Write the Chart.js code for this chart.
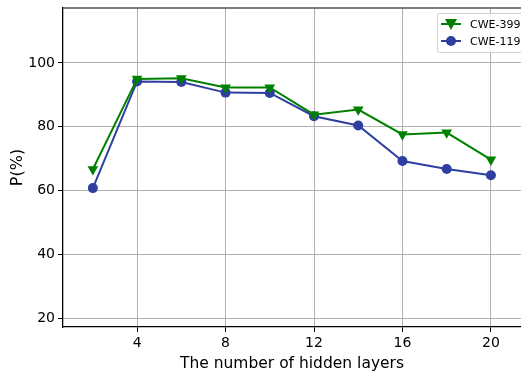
<!DOCTYPE html>
<html lang="en">
<head>
    <meta charset="UTF-8">
    <title>P(%) vs hidden layers</title>
    <script src="https://cdn.jsdelivr.net/npm/chart.js"></script>
    <style>
        html, body { margin: 0; padding: 0; background: #fff; }
        #wrap { width: 521px; height: 373px; }
    </style>
</head>
<body>
    <div id="wrap"><canvas id="pChart" width="521" height="373"></canvas></div>

    <script>
        // values
        const hiddenLayers = [2, 4, 6, 8, 10, 12, 14, 16, 18, 20];
        const cwe399 = [66.7, 95.0, 95.2, 92.3, 92.3, 83.8, 85.4, 77.6, 78.2, 69.7];
        const cwe119 = [60.8, 94.2, 94.0, 90.7, 90.6, 83.3, 80.4, 69.3, 66.8, 64.8];
        const xTicks = [4, 8, 12, 16, 20];
        const yTicks = [20, 40, 60, 80, 100];

        const FONT = "'DejaVu Sans', sans-serif";

        // matplotlib-like frame: top spine + legend with line through marker
        const framePlugin = {
            id: 'frame',
            afterDraw(chart) {
                const ctx = chart.ctx;
                const a = chart.chartArea;
                ctx.save();
                ctx.strokeStyle = '#555';
                ctx.lineWidth = 1.5;
                ctx.beginPath();
                ctx.moveTo(a.left, a.top);
                ctx.lineTo(a.right, a.top);
                ctx.stroke();

                // legend box
                const bx = 437, by = 13, bw = 90, bh = 39;
                ctx.fillStyle = 'rgba(255,255,255,0.85)';
                ctx.strokeStyle = '#d0d0d0';
                ctx.lineWidth = 1;
                ctx.beginPath();
                ctx.roundRect(bx + 0.5, by + 0.5, bw, bh, 2);
                ctx.fill();
                ctx.stroke();

                chart.data.datasets.forEach((ds, i) => {
                    const y = by + 11 + i * 17;
                    ctx.strokeStyle = ds.borderColor;
                    ctx.lineWidth = 2;
                    ctx.beginPath();
                    ctx.moveTo(bx + 4, y);
                    ctx.lineTo(bx + 24, y);
                    ctx.stroke();
                    ctx.fillStyle = ds.borderColor;
                    ctx.beginPath();
                    if (ds.pointStyle === 'triangle') {
                        ctx.moveTo(bx + 8, y - 5);
                        ctx.lineTo(bx + 20, y - 5);
                        ctx.lineTo(bx + 14, y + 6);
                    } else {
                        ctx.arc(bx + 14, y, 5, 0, Math.PI * 2);
                    }
                    ctx.closePath();
                    ctx.fill();
                    ctx.fillStyle = '#000';
                    ctx.font = '11px ' + FONT;
                    ctx.textBaseline = 'middle';
                    ctx.textAlign = 'left';
                    ctx.fillText(ds.label, bx + 33, y + 1);
                });
                ctx.restore();
            }
        };

        const ctx = document.getElementById('pChart').getContext('2d');
        new Chart(ctx, {
            type: 'line',
            data: {
                datasets: [
                    {
                        label: 'CWE-399',
                        data: hiddenLayers.map((x, i) => ({ x: x, y: cwe399[i] })),
                        borderColor: '#008000',
                        backgroundColor: '#008000',
                        borderWidth: 2,
                        pointStyle: 'triangle',
                        rotation: 180,
                        pointRadius: 6.2,
                        pointBorderWidth: 0,
                        tension: 0
                    },
                    {
                        label: 'CWE-119',
                        data: hiddenLayers.map((x, i) => ({ x: x, y: cwe119[i] })),
                        borderColor: '#2f3f9f',
                        backgroundColor: '#2f3f9f',
                        borderWidth: 2,
                        pointStyle: 'circle',
                        pointRadius: 5,
                        pointBorderWidth: 0,
                        tension: 0
                    }
                ]
            },
            options: {
                responsive: false,
                animation: false,
                layout: { autoPadding: false, padding: { top: 8, right: 0, left: 0, bottom: 0 } },
                plugins: {
                    legend: { display: false },
                    tooltip: { enabled: false }
                },
                scales: {
                    x: {
                        type: 'linear',
                        min: 0.65,
                        max: 21.36,
                        afterBuildTicks: s => { s.ticks = xTicks.map(v => ({ value: v })); },
                        afterFit: s => { s.height = 46; s.paddingLeft = 0; s.paddingRight = 0; },
                        grid: { color: '#b0b0b0', lineWidth: 1, tickLength: 5, tickColor: '#000' },
                        border: { color: '#000', width: 1.3 },
                        ticks: { color: '#000', padding: 3, font: { family: FONT, size: 14 } },
                        title: {
                            display: true,
                            text: 'The number of hidden layers',
                            color: '#000',
                            padding: 0,
                            font: { family: FONT, size: 15.5 }
                        }
                    },
                    y: {
                        min: 17.3,
                        max: 117.2,
                        afterBuildTicks: s => { s.ticks = yTicks.map(v => ({ value: v })); },
                        afterFit: s => { s.width = 63; s.paddingTop = 0; s.paddingBottom = 0; },
                        grid: { color: '#b0b0b0', lineWidth: 1, tickLength: 5, tickColor: '#000' },
                        border: { color: '#000', width: 1.3 },
                        ticks: { color: '#000', padding: 3, font: { family: FONT, size: 14 } },
                        title: {
                            display: true,
                            text: 'P(%)',
                            color: '#000',
                            padding: { top: 8 },
                            font: { family: FONT, size: 16 }
                        }
                    }
                }
            },
            plugins: [framePlugin]
        });
    </script>
</body>
</html>
